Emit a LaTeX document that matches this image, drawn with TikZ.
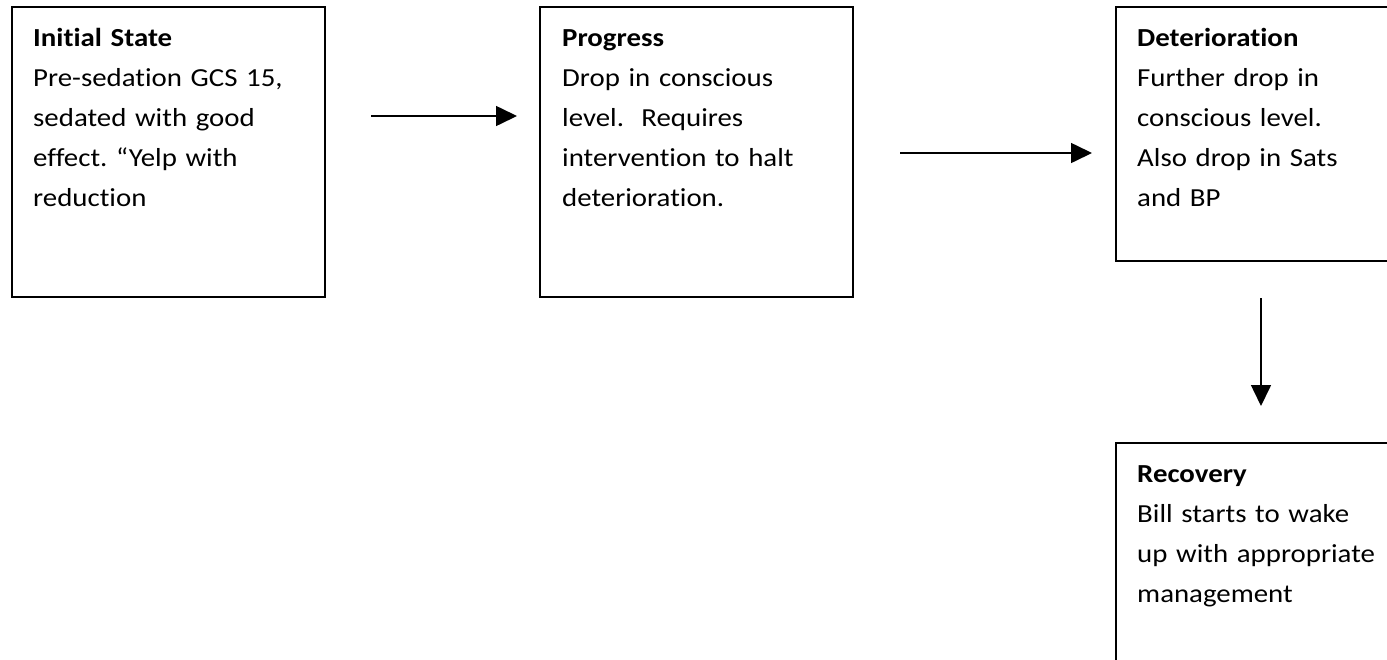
\documentclass[tikz,border=0pt]{standalone}
\usepackage{fontspec}
\setmainfont{Carlito}[FakeStretch=1.11, Ligatures=NoCommon]
\usetikzlibrary{arrows.meta}
\frenchspacing
\tikzset{
  box/.style={draw=black, line width=1.6pt, rectangle, inner sep=0pt, outer sep=0pt, anchor=north west},
  txt/.style={anchor=base west, inner sep=0pt, text width=330pt, align=left,
    font=\fontsize{26pt}{40pt}\selectfont\frenchspacing, text=black},
  arr/.style={draw=black, line width=1.6pt, -{Triangle[length=21pt,width=20pt]}}
}
\begin{document}
\begin{tikzpicture}[x=1pt,y=-1pt]
\useasboundingbox (0,0) rectangle (1387,659);
\clip (0,0) rectangle (1387,659);
\fill[white] (0,0) rectangle (1387,659);
% boxes
\node[box, minimum width=313pt, minimum height=290pt] (b1) at (12,7) {};
\node[box, minimum width=313pt, minimum height=290pt] (b2) at (540,7) {};
\node[box, minimum width=300pt, minimum height=254pt] (b3) at (1116,7) {};
\node[box, minimum width=300pt, minimum height=260pt] (b4) at (1116,443) {};
% texts
\node[txt] (t1) at (33,46) {\textbf{Initial State}\\Pre-sedation GCS 15,\\sedated with good\\effect. “Yelp with\\reduction};
\node[txt] (t2) at (562,46) {\textbf{Progress}\\Drop in conscious\\level.\ \ Requires\\intervention to halt\\deterioration.};
\node[txt] (t3) at (1137,46) {\textbf{Deterioration}\\Further drop in\\conscious level.\\Also drop in Sats\\and BP};
\node[txt] (t4) at (1137,482) {\textbf{Recovery}\\Bill starts to wake\\up with appropriate\\management};
% arrows
\coordinate (a1s) at (371,116);
\coordinate (a1e) at (517,116);
\coordinate (a2s) at (900,153);
\coordinate (a2e) at (1092,153);
\coordinate (a3s) at (1261,298);
\coordinate (a3e) at (1261,406);
\draw[arr] (a1s) -- (a1e);
\draw[arr] (a2s) -- (a2e);
\draw[arr] (a3s) -- (a3e);
\end{tikzpicture}
\end{document}
